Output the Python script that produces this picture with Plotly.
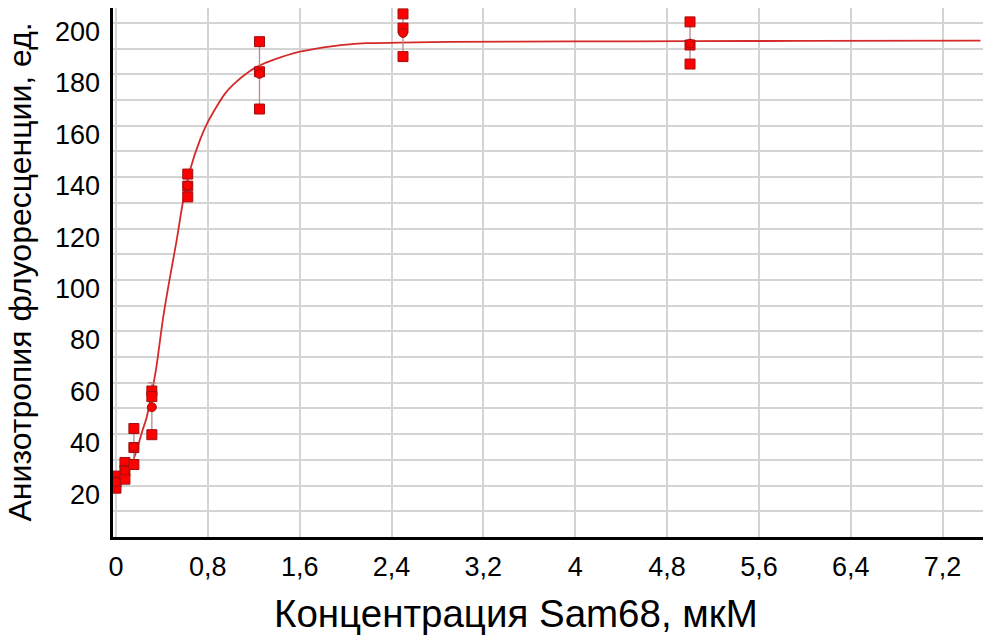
import plotly.graph_objects as go

# Concentrations (uM)
conc = [0.0, 0.078, 0.156, 0.3125, 0.625, 1.25, 2.5, 5.0]
rep1 = [23.7, 29.0, 42.2, 56.8, 141.2, 192.7, 203.5, 200.4]
rep2 = [21.4, 25.8, 34.8, 54.6, 136.5, 181.0, 198.0, 191.4]
rep3 = [19.0, 22.5, 28.2, 39.8, 132.3, 166.5, 186.9, 184.0]
# Means and SD
means = [21.4, 25.8, 35.0, 50.5, 136.7, 180.2, 196.1, 191.9]
sds = [2.4, 3.3, 7.0, 9.5, 4.5, 13.1, 8.5, 8.2]

# Fitted curve, points
curve_x = [0.0, 0.078, 0.151, 0.232, 0.267, 0.305, 0.348, 0.412, 0.47, 0.529, 0.586,
           0.645, 0.732, 0.795, 0.877, 0.95, 1.021, 1.167, 1.25, 1.37, 1.603, 1.893,
           2.184, 2.47, 2.909, 4.0, 5.0, 6.0, 7.53]
curve_y = [22.0, 24.5, 30.0, 41.6, 46.5, 54.6, 65.0, 85.7, 101.0, 115.6, 131.0,
           142.8, 154.5, 161.0, 167.5, 172.5, 176.0, 181.3, 183.4, 185.6, 188.8, 191.0,
           192.1, 192.3, 192.6, 192.8, 192.9, 193.0, 193.1]

x_tick_vals = [0, 0.8, 1.6, 2.4, 3.2, 4.0, 4.8, 5.6, 6.4, 7.2]
x_tick_text = ["0", "0,8", "1,6", "2,4", "3,2", "4", "4,8", "5,6", "6,4", "7,2"]
y_grid_vals = list(range(0, 201, 10))
y_label_vals = [20, 40, 60, 80, 100, 120, 140, 160, 180, 200]
y_label_text = ["20", "40", "60", "80", "100", "120", "140", "160", "180", "200"]

x_title = "Концентрация Sam68, мкМ"
y_title = "Анизотропия флуоресценции, ед."

fig = go.Figure()

fig.add_trace(go.Scatter(
    x=curve_x, y=curve_y, mode="lines",
    line=dict(color="#d42a2a", width=1.8, shape="spline", smoothing=0.8),
    hoverinfo="skip", showlegend=False))

fig.add_trace(go.Scatter(
    x=conc, y=means, mode="markers",
    marker=dict(size=1, color="rgba(0,0,0,0)"),
    error_y=dict(type="data", array=sds, visible=True, color="#b98a8a",
                 thickness=1.3, width=4),
    showlegend=False))

sq = dict(symbol="square", size=10, color="#ff0000",
          line=dict(color="#a01010", width=1))
for r in (rep1, rep2, rep3):
    fig.add_trace(go.Scatter(x=conc, y=r, mode="markers", marker=sq,
                             showlegend=False))

fig.add_trace(go.Scatter(
    x=conc, y=means, mode="markers",
    marker=dict(symbol="circle", size=9, color="#ff0000",
                line=dict(color="#a01010", width=1)),
    showlegend=False))

font_family = "Liberation Sans, Arial, sans-serif"

annotations = [
    dict(text=t, xref="paper", yref="y", x=0, y=v, xanchor="right",
         yanchor="middle", xshift=-11, yshift=-9, showarrow=False,
         font=dict(size=27))
    for v, t in zip(y_label_vals, y_label_text)
]
annotations += [
    dict(text=x_title, xref="paper", yref="paper",
         x=(516 - 113) / 870, y=(537 - 613) / 529,
         xanchor="center", yanchor="middle", showarrow=False,
         font=dict(size=38.5)),
    dict(text=y_title, xref="paper", yref="paper",
         x=(19 - 113) / 870, y=0.5, textangle=-90,
         xanchor="center", yanchor="middle", showarrow=False,
         font=dict(size=32)),
]

fig.update_layout(
    width=992, height=641,
    margin=dict(l=113, r=9, t=8, b=104),
    plot_bgcolor="white", paper_bgcolor="white",
    font=dict(family=font_family, color="black", size=27),
    xaxis=dict(
        range=[-0.026, 7.552], tickvals=x_tick_vals, ticktext=x_tick_text,
        showgrid=True, gridcolor="#d4d4d4", gridwidth=2,
        showline=True, linecolor="black", linewidth=3,
        zeroline=False, ticks="", ticklabelstandoff=4,
        tickfont=dict(size=27)),
    yaxis=dict(
        range=[0, 205.8], tickvals=y_grid_vals, showticklabels=False,
        showgrid=True, gridcolor="#d4d4d4", gridwidth=2,
        showline=True, linecolor="black", linewidth=3,
        zeroline=False, ticks=""),
    annotations=annotations,
)

fig.write_html("out.html", config={"displayModeBar": False},
               post_script="document.body.style.margin='0';document.body.style.overflow='hidden';")
